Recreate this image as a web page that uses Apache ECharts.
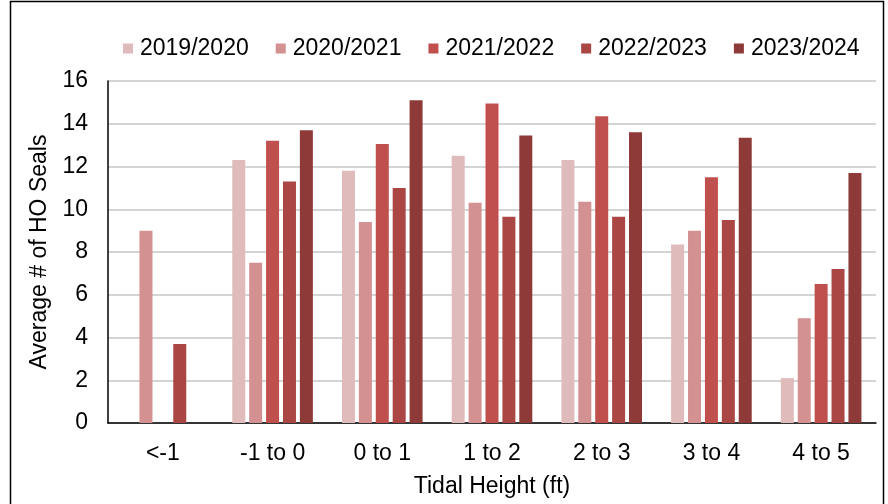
<!DOCTYPE html>
<html><head><meta charset="utf-8">
<script src="https://cdn.jsdelivr.net/npm/echarts@6/dist/echarts.min.js"></script>
<style>html,body{margin:0;padding:0;background:#fff}#c{width:888px;height:504px}</style>
</head><body><div id="c"></div>
<script>
const categories = ['<-1', '-1 to 0', '0 to 1', '1 to 2', '2 to 3', '3 to 4', '4 to 5'];
const seriesNames = ['2019/2020', '2020/2021', '2021/2022', '2022/2023', '2023/2024'];
const s2019 = [null, 12.3, 11.8, 12.5, 12.3, 8.35, 2.1];
const s2020 = [9.0, 7.5, 9.4, 10.3, 10.35, 9.0, 4.9];
const s2021 = [null, 13.2, 13.05, 14.95, 14.35, 11.5, 6.5];
const s2022 = [3.7, 11.3, 11.0, 9.65, 9.65, 9.5, 7.2];
const s2023 = [null, 13.7, 15.1, 13.45, 13.6, 13.35, 11.7];
const yTicks = [0, 2, 4, 6, 8, 10, 12, 14, 16];
const colors = ['#E0BBBB', '#D39191', '#C0504D', '#AA4644', '#8E3A38'];
const allData = [s2019, s2020, s2021, s2022, s2023];
const font = 'Liberation Sans, Arial, sans-serif';
const fs = 23;

const chart = echarts.init(document.getElementById('c'), null, {renderer: 'canvas'});
chart.setOption({
  animation: false,
  backgroundColor: '#fff',
  color: colors,
  graphic: [{type: 'rect', shape: {x: 10.5, y: 1.5, width: 873, height: 520}, style: {fill: 'none', stroke: '#000', lineWidth: 1.5}, silent: true}],
  legend: {
    top: 32, left: 118, itemWidth: 10, itemHeight: 10, itemGap: 27,
    icon: 'rect',
    textStyle: {fontFamily: font, fontSize: fs, color: '#000', padding: [0, 0, 0, 2]},
    data: seriesNames
  },
  grid: {left: 108, right: 12, top: 81, bottom: 81, containLabel: false},
  xAxis: {
    type: 'category', data: categories,
    name: 'Tidal Height (ft)', nameLocation: 'middle', nameGap: 52,
    nameTextStyle: {fontFamily: font, fontSize: fs, color: '#000'},
    axisLine: {lineStyle: {color: '#000', width: 1.5}},
    axisTick: {show: false},
    axisLabel: {fontFamily: font, fontSize: fs, color: '#000', margin: 19}
  },
  yAxis: {
    type: 'value', min: yTicks[0], max: yTicks[yTicks.length - 1], interval: 2,
    name: 'Average # of HO Seals', nameLocation: 'middle', nameGap: 54, nameRotate: 90,
    nameTextStyle: {fontFamily: font, fontSize: fs, color: '#000'},
    axisLine: {show: true, lineStyle: {color: '#000', width: 1.5}},
    axisTick: {show: false},
    axisLabel: {fontFamily: font, fontSize: fs, color: '#000', margin: 20},
    splitLine: {lineStyle: {color: '#C6C6C6', width: 1.5}}
  },
  series: seriesNames.map((n, i) => ({
    name: n, type: 'bar', data: allData[i], barWidth: 13, barGap: '30%',
    itemStyle: {color: colors[i]}
  }))
});
</script></body></html>
